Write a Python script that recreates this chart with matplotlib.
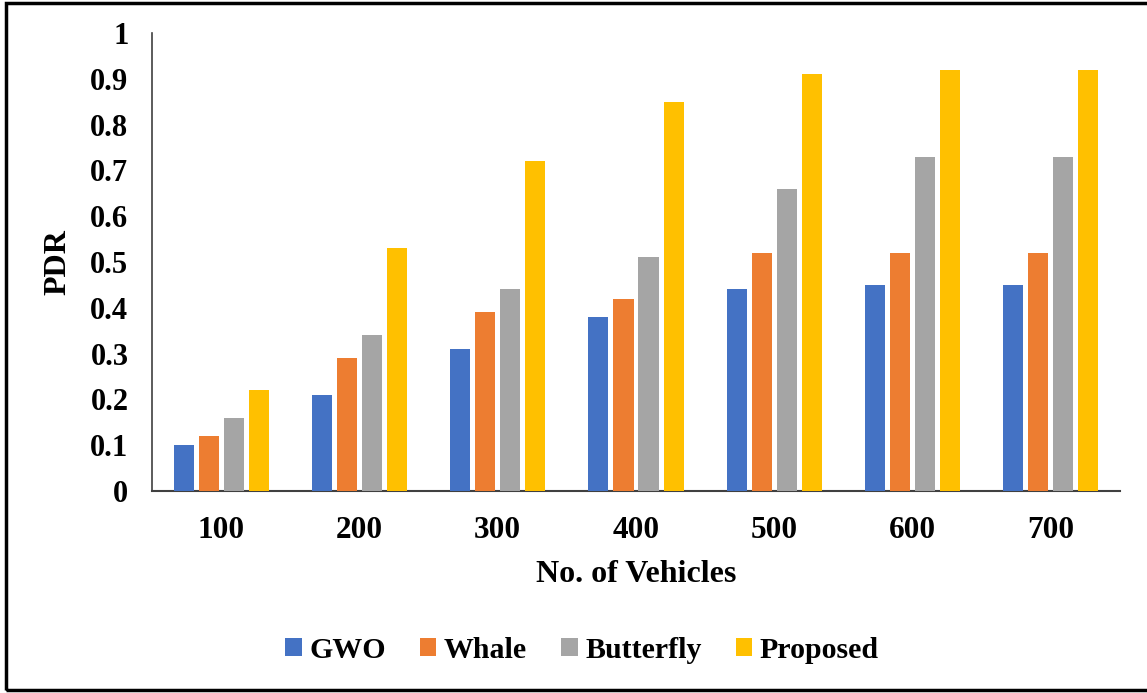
import matplotlib
matplotlib.use("Agg")
import matplotlib.pyplot as plt
import numpy as np
from matplotlib.patches import Rectangle

categories = ["100", "200", "300", "400", "500", "600", "700"]
series_names = ["GWO", "Whale", "Butterfly", "Proposed"]
gwo = [0.10, 0.21, 0.31, 0.38, 0.44, 0.45, 0.45]
whale = [0.12, 0.29, 0.39, 0.42, 0.52, 0.52, 0.52]
butterfly = [0.16, 0.34, 0.44, 0.51, 0.66, 0.73, 0.73]
proposed = [0.22, 0.53, 0.72, 0.85, 0.91, 0.92, 0.92]
y_ticks = [0, 0.1, 0.2, 0.3, 0.4, 0.5, 0.6, 0.7, 0.8, 0.9, 1]
y_tick_labels = ["0", "0.1", "0.2", "0.3", "0.4", "0.5", "0.6", "0.7", "0.8", "0.9", "1"]

colors = ["#4472C4", "#ED7D31", "#A5A5A5", "#FFC000"]

plt.rcParams["font.family"] = ["Liberation Serif", "DejaVu Serif"]
plt.rcParams["font.weight"] = "bold"

W, H = 1147, 693
fig = plt.figure(figsize=(W / 100, H / 100), dpi=100)
ax = fig.add_axes([152 / W, 1 - 491 / H, (1120 - 152) / W, (491 - 33) / H])

x = np.arange(len(categories))
step = 0.181
width = 0.145
all_series = [gwo, whale, butterfly, proposed]
for i, (name, vals, c) in enumerate(zip(series_names, all_series, colors)):
    offs = (i - 1.5) * step
    ax.bar(x + offs, vals, width=width, color=c, label=name, zorder=3)

ax.set_xlim(-0.5, len(categories) - 0.5)
ax.set_ylim(0, 1)
ax.set_yticks(y_ticks)
ax.set_yticklabels(y_tick_labels, fontsize=22, fontweight="bold")
ax.set_xticks(x)
ax.set_xticklabels(categories, fontsize=22.5, fontweight="bold")
ax.tick_params(axis="both", length=0)
ax.tick_params(axis="y", pad=17)
ax.tick_params(axis="x", pad=18)

for s in ["top", "right"]:
    ax.spines[s].set_visible(False)
ax.spines["left"].set_color("#404040")
ax.spines["left"].set_linewidth(1.2)
ax.spines["bottom"].set_color("#404040")
ax.spines["bottom"].set_linewidth(1.5)

ax.set_ylabel("PDR", fontsize=23, fontweight="bold", labelpad=13)
ax.set_xlabel("No. of Vehicles", fontsize=23, fontweight="bold", labelpad=11)

leg = fig.legend(loc="center", bbox_to_anchor=(582 / W, 1 - 650 / H), ncol=4,
                 frameon=False, prop={"size": 21.5, "weight": "bold"},
                 handlelength=0.55, handleheight=0.55, handletextpad=0.25,
                 columnspacing=1.15)

# outer frame around the figure
fig.add_artist(Rectangle((6 / W, 3 / H), 1.2, 1 - 6 / H, transform=fig.transFigure,
                         fill=False, edgecolor="black", linewidth=2.5))

fig.savefig("out.png", dpi=100)
